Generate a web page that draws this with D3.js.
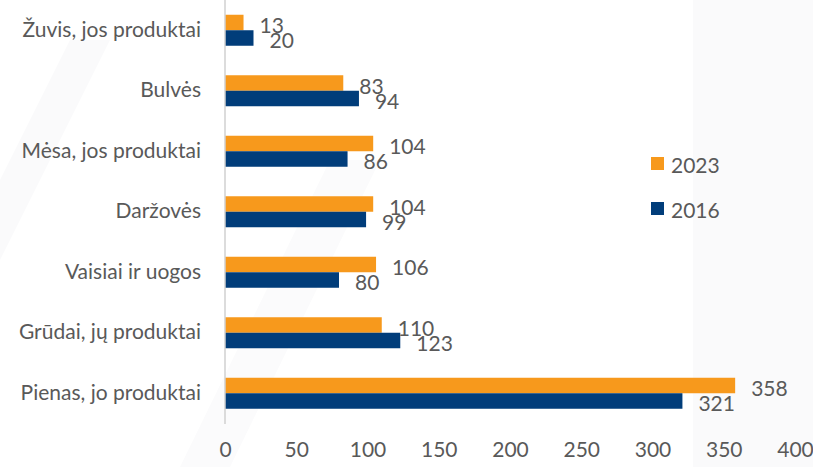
<!DOCTYPE html>
<html><head><meta charset="utf-8">
<script src="https://cdn.jsdelivr.net/npm/d3@7"></script>
<style>html,body{margin:0;padding:0;background:#fff;}svg{display:block;}</style>
</head><body>
<svg id="chart" width="813" height="467"></svg>
<script>
const categories = ["Žuvis, jos produktai","Bulvės","Mėsa, jos produktai","Daržovės","Vaisiai ir uogos","Grūdai, jų produktai","Pienas, jo produktai"];
const series = ["2023","2016"];
const values2023 = [13,83,104,104,106,110,358];
const values2016 = [20,94,86,99,80,123,321];
const ticks = [0,50,100,150,200,250,300,350,400];
const colors = {"2023":"#F7991C","2016":"#013D7A"};

const svg = d3.select("#chart");
const font = "Lato, 'Open Sans', sans-serif";
const textColor = "#595959";

// faint watermark background
const bg = svg.append("g");
bg.append("rect").attr("x",693).attr("y",0).attr("width",120).attr("height",467).attr("fill","#fafafb");
bg.append("path").attr("d","M0,180 L70,40 L110,40 L0,260 Z").attr("fill","#fafafb");
bg.append("path").attr("d","M180,467 L330,160 L380,160 L230,467 Z").attr("fill","#fbfbfc");

const x = d3.scaleLinear().domain([0,400]).range([225,795]);
const y = d3.scaleBand().domain(categories).range([0,423.5]).paddingInner(0.4876).paddingOuter(0.2438);
const ys = d3.scaleBand().domain(series).range([0,y.bandwidth()]);

const data = categories.map((c,i)=>({cat:c, vals:{"2023":values2023[i],"2016":values2016[i]}}));

const groups = svg.append("g").selectAll("g").data(data).join("g")
  .attr("transform", d=>`translate(0,${y(d.cat)})`);

groups.selectAll("rect").data(d=>series.map(s=>({s, v:d.vals[s]}))).join("rect")
  .attr("x", x(0)).attr("y", d=>ys(d.s))
  .attr("width", d=>x(d.v)-x(0)).attr("height", ys.bandwidth())
  .attr("fill", d=>colors[d.s]);

groups.selectAll("text").data(d=>series.map(s=>({s, v:d.vals[s]}))).join("text")
  .attr("x", d=>x(d.v)+16).attr("y", d=>ys(d.s)+ys.bandwidth()/2+2)
  .attr("dominant-baseline","central")
  .attr("font-family",font).attr("font-size",21).attr("fill",textColor)
  .text(d=>d.v);

// category axis line
svg.append("line").attr("x1",x(0)).attr("x2",x(0)).attr("y1",0).attr("y2",424)
  .attr("stroke","#d0d0d0").attr("stroke-width",1.5);

// category labels
const yAxis = d3.axisLeft(y).tickSize(0).tickPadding(24);
const ya = svg.append("g").attr("transform",`translate(${x(0)},0)`).call(yAxis);
ya.select(".domain").remove();
ya.selectAll("text").attr("font-family",font).attr("font-size",21).attr("fill",textColor);

// value axis labels
const xAxis = d3.axisBottom(x).tickValues(ticks).tickSize(0).tickPadding(0);
const xa = svg.append("g").attr("transform","translate(0,442)").call(xAxis);
xa.select(".domain").remove();
xa.selectAll("text").attr("font-family",font).attr("font-size",21).attr("fill",textColor);

// legend
const legend = svg.append("g");
series.forEach((s,i)=>{
  const ly = 164 + i*45;
  legend.append("rect").attr("x",651).attr("y",ly-7).attr("width",13).attr("height",13).attr("fill",colors[s]);
  legend.append("text").attr("x",671).attr("y",ly).attr("dominant-baseline","central")
    .attr("font-family",font).attr("font-size",21).attr("fill",textColor).text(s);
});
</script>
</body></html>
